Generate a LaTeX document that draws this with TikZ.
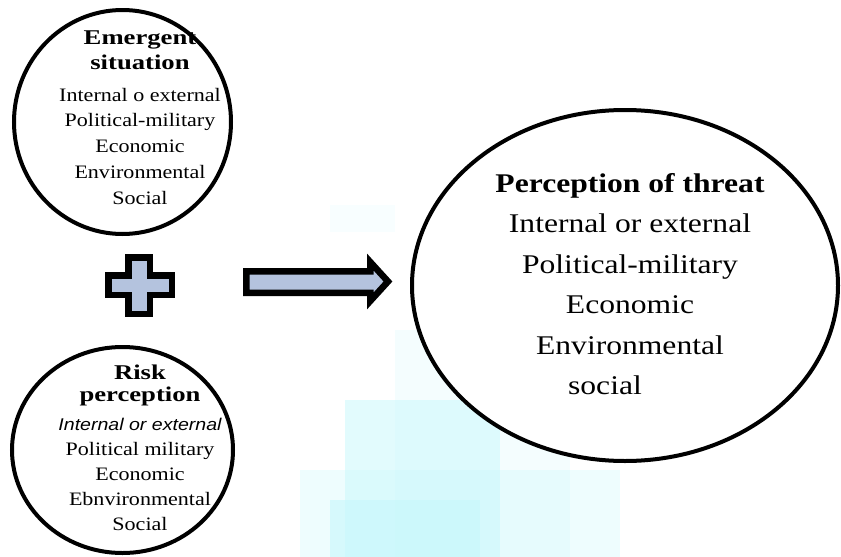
\documentclass[tikz,border=0pt]{standalone}
\usepackage{fontspec}
\setmainfont{Liberation Serif}
\newfontfamily\textoancho[FakeStretch=1.16]{Liberation Serif}
\newfontfamily\textogrande[FakeStretch=1.17]{Liberation Serif}
\newfontfamily\titulo[FakeStretch=1.27]{Liberation Serif}
\newfontfamily\cursivasans[FakeStretch=1.15]{Liberation Sans}
\usetikzlibrary{shapes.geometric,positioning}
\definecolor{relleno}{HTML}{B4C3DE}
\definecolor{cian}{HTML}{C6F7FB}
\tikzset{
	burbuja/.style={draw=black, line width=4pt, fill=white, ellipse, inner sep=0pt},
	bloque/.style={draw=black, line width=6.5pt, fill=relleno, line join=miter},
	lista/.style={align=center, inner sep=0pt},
}

\begin{document}
\begin{tikzpicture}[x=1pt, y=-1pt]
		\useasboundingbox (0,0) rectangle (841,557);

		% Fondo difuminado
		\fill[cian, opacity=0.12] (330,205) rectangle (395,232);
		\fill[cian, opacity=0.2] (395,330) rectangle (570,557);
		\fill[cian, opacity=0.3] (300,470) rectangle (620,557);
		\fill[cian, opacity=0.5] (345,400) rectangle (500,557);
		\fill[cian, opacity=0.6] (330,500) rectangle (480,557);

		% Elipses
		\node[burbuja, minimum width=217pt, minimum height=224pt] (emergente) at (122.5,122) {};
		\node[burbuja, minimum width=221pt, minimum height=206pt] (riesgo) at (122.5,450) {};
		\node[burbuja, minimum width=426pt, minimum height=351pt] (amenaza) at (625,285.5) {};

		% Textos de la situacion emergente
		\node[lista, font=\titulo\bfseries\fontsize{21}{25}\selectfont] (titemergente) at (140,50) {Emergent\\situation};
		\node[lista, font=\textoancho\fontsize{19}{25.8}\selectfont, below=18pt of titemergente] (listaemergente) {Internal o external\\Political-military\\Economic\\Environmental\\Social};

		% Textos de la percepcion de riesgo
		\node[lista, font=\titulo\bfseries\fontsize{21}{22}\selectfont] (titriesgo) at (140,385) {Risk\\perception};
		\node[lista, font=\textoancho\fontsize{19}{25}\selectfont, below=12pt of titriesgo] (listariesgo) {{\cursivasans\itshape\fontsize{17}{25}\selectfont Internal or external}\\Political military\\Economic\\Ebnvironmental\\Social};

		% Textos de la percepcion de amenaza
		\node[lista, font=\textogrande\fontsize{27}{40.5}\selectfont] (listaamenaza) at (630,284) {{\bfseries Perception of threat}\\Internal or external\\Political-military\\Economic\\Environmental\\social\hspace*{50pt}};

		% Signo mas
		\draw[bloque] (128.25,257.25) -- (149.75,257.25) -- (149.75,275.25) -- (171.75,275.25) -- (171.75,294.75) -- (149.75,294.75) -- (149.75,313.75) -- (128.25,313.75) -- (128.25,294.75) -- (108.25,294.75) -- (108.25,275.25) -- (128.25,275.25) -- cycle;

		% Flecha
		\draw[bloque] (246.25,271.25) -- (370.25,271.25) -- (370.25,262) -- (388,281.5) -- (370.25,301) -- (370.25,292.75) -- (246.25,292.75) -- cycle;
	\end{tikzpicture}
\end{document}
